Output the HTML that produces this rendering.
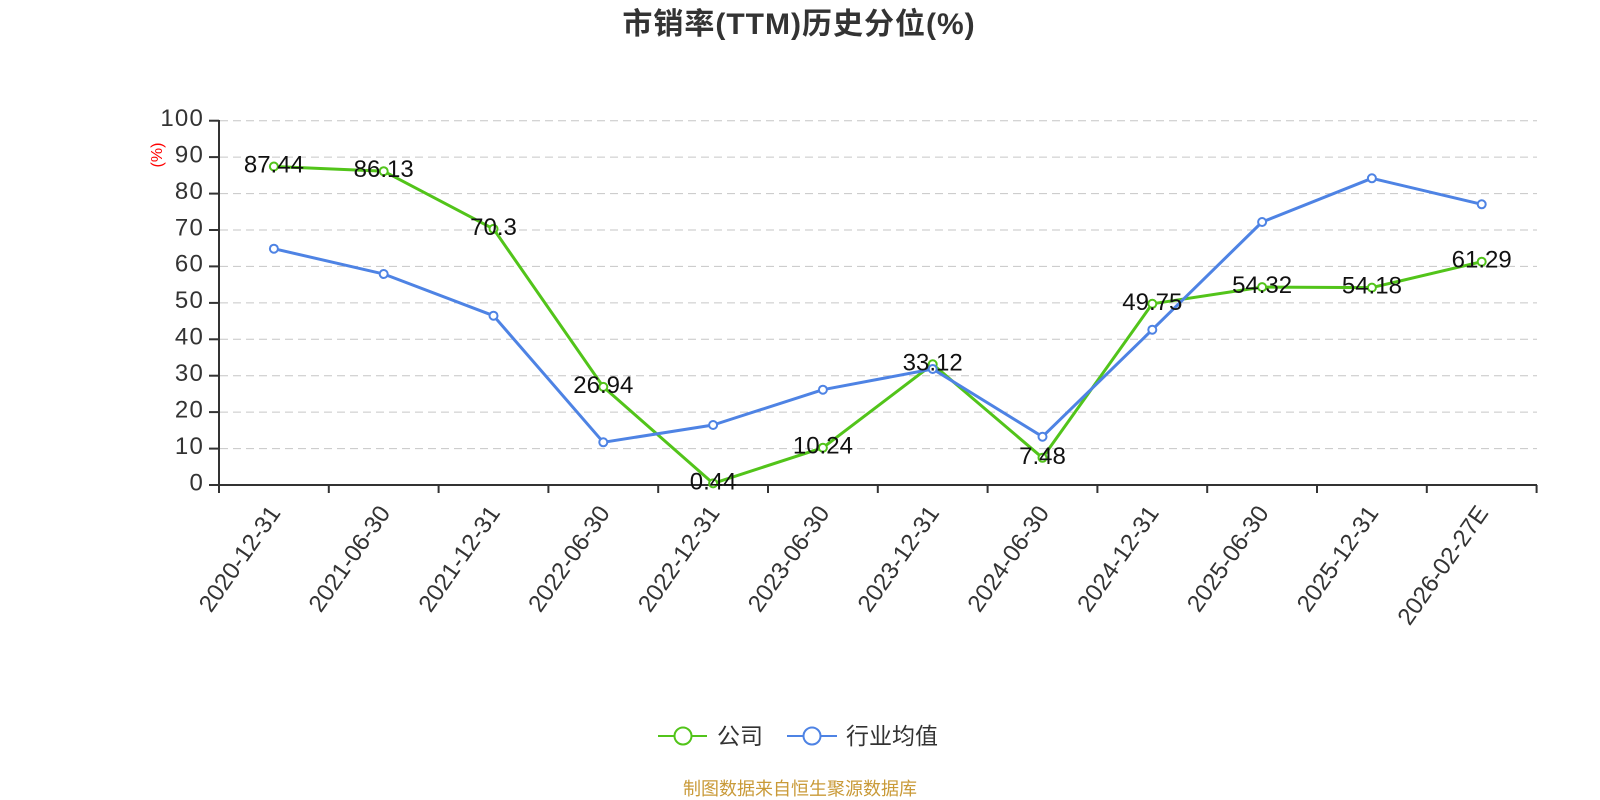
<!DOCTYPE html>
<html><head><meta charset="utf-8"><style>
html,body{margin:0;padding:0;background:#fff;}
svg{display:block;}
text{font-family:"Liberation Sans","Noto Sans CJK SC",sans-serif;}
</style></head><body>
<svg width="1600" height="800" viewBox="0 0 1600 800" xmlns="http://www.w3.org/2000/svg">
<rect width="1600" height="800" fill="#fff"/>
<text x="799" y="34" text-anchor="middle" font-size="30" font-weight="bold" fill="#333" letter-spacing="1">市销率(TTM)历史分位(%)</text>

<g stroke="#c6c6c6" stroke-width="1" stroke-dasharray="8,5">
<line x1="220" y1="120.7" x2="1537" y2="120.7"/>
<line x1="220" y1="157.1" x2="1537" y2="157.1"/>
<line x1="220" y1="193.6" x2="1537" y2="193.6"/>
<line x1="220" y1="230" x2="1537" y2="230"/>
<line x1="220" y1="266.4" x2="1537" y2="266.4"/>
<line x1="220" y1="302.9" x2="1537" y2="302.9"/>
<line x1="220" y1="339.3" x2="1537" y2="339.3"/>
<line x1="220" y1="375.7" x2="1537" y2="375.7"/>
<line x1="220" y1="412.1" x2="1537" y2="412.1"/>
<line x1="220" y1="448.6" x2="1537" y2="448.6"/>
</g>

<g stroke="#333" stroke-width="2">
<line x1="219" y1="120" x2="219" y2="485"/>
<line x1="218" y1="485" x2="1537" y2="485"/>
<line x1="209" y1="120.7" x2="219" y2="120.7"/>
<line x1="209" y1="157.1" x2="219" y2="157.1"/>
<line x1="209" y1="193.6" x2="219" y2="193.6"/>
<line x1="209" y1="230" x2="219" y2="230"/>
<line x1="209" y1="266.4" x2="219" y2="266.4"/>
<line x1="209" y1="302.9" x2="219" y2="302.9"/>
<line x1="209" y1="339.3" x2="219" y2="339.3"/>
<line x1="209" y1="375.7" x2="219" y2="375.7"/>
<line x1="209" y1="412.1" x2="219" y2="412.1"/>
<line x1="209" y1="448.6" x2="219" y2="448.6"/>
<line x1="209" y1="485" x2="219" y2="485"/>
<line x1="219" y1="485" x2="219" y2="493"/>
<line x1="328.8" y1="485" x2="328.8" y2="493"/>
<line x1="438.6" y1="485" x2="438.6" y2="493"/>
<line x1="548.4" y1="485" x2="548.4" y2="493"/>
<line x1="658.2" y1="485" x2="658.2" y2="493"/>
<line x1="768" y1="485" x2="768" y2="493"/>
<line x1="877.8" y1="485" x2="877.8" y2="493"/>
<line x1="987.6" y1="485" x2="987.6" y2="493"/>
<line x1="1097.4" y1="485" x2="1097.4" y2="493"/>
<line x1="1207.2" y1="485" x2="1207.2" y2="493"/>
<line x1="1317" y1="485" x2="1317" y2="493"/>
<line x1="1426.8" y1="485" x2="1426.8" y2="493"/>
<line x1="1536.6" y1="485" x2="1536.6" y2="493"/>
</g>

<g font-size="24" fill="#333" text-anchor="end" letter-spacing="1.2">
<text x="204" y="126">100</text>
<text x="204" y="162.5">90</text>
<text x="204" y="199">80</text>
<text x="204" y="235.5">70</text>
<text x="204" y="271.5">60</text>
<text x="204" y="308">50</text>
<text x="204" y="344.5">40</text>
<text x="204" y="381">30</text>
<text x="204" y="417.5">20</text>
<text x="204" y="454">10</text>
<text x="204" y="490.5">0</text>
</g>
<text transform="translate(162,155) rotate(-90)" text-anchor="middle" font-size="16" fill="#ff0000">(%)</text>

<g font-size="24" fill="#333" text-anchor="end">
<text transform="translate(281.4,513) rotate(-55)">2020-12-31</text>
<text transform="translate(391.2,513) rotate(-55)">2021-06-30</text>
<text transform="translate(501,513) rotate(-55)">2021-12-31</text>
<text transform="translate(610.8,513) rotate(-55)">2022-06-30</text>
<text transform="translate(720.6,513) rotate(-55)">2022-12-31</text>
<text transform="translate(830.4,513) rotate(-55)">2023-06-30</text>
<text transform="translate(940.2,513) rotate(-55)">2023-12-31</text>
<text transform="translate(1050,513) rotate(-55)">2024-06-30</text>
<text transform="translate(1159.8,513) rotate(-55)">2024-12-31</text>
<text transform="translate(1269.6,513) rotate(-55)">2025-06-30</text>
<text transform="translate(1379.4,513) rotate(-55)">2025-12-31</text>
<text transform="translate(1489.2,513) rotate(-55)">2026-02-27E</text>
</g>

<polyline fill="none" stroke="#52c41a" stroke-width="3" stroke-linejoin="round" points="273.9,166.5 383.7,171.2 493.5,228.9 603.3,386.9 713.1,483.4 822.9,447.7 932.7,364.3 1042.5,457.8 1152.3,303.8 1262.1,287.1 1371.9,287.6 1481.7,261.7"/>
<g fill="#fff" stroke="#52c41a" stroke-width="2">
<circle cx="273.9" cy="166.5" r="4"/><circle cx="383.7" cy="171.2" r="4"/><circle cx="493.5" cy="228.9" r="4"/><circle cx="603.3" cy="386.9" r="4"/><circle cx="713.1" cy="483.4" r="4"/><circle cx="822.9" cy="447.7" r="4"/><circle cx="932.7" cy="364.3" r="4"/><circle cx="1042.5" cy="457.8" r="4"/><circle cx="1152.3" cy="303.8" r="4"/><circle cx="1262.1" cy="287.1" r="4"/><circle cx="1371.9" cy="287.6" r="4"/><circle cx="1481.7" cy="261.7" r="4"/>
</g>

<polyline fill="none" stroke="#4e83e4" stroke-width="3" stroke-linejoin="round" points="273.9,248.7 383.7,274 493.5,315.7 603.3,442.3 713.1,425 822.9,389.7 932.7,369 1042.5,436.7 1152.3,329.7 1262.1,222 1371.9,178.3 1481.7,204.3"/>
<g fill="#fff" stroke="#4e83e4" stroke-width="2">
<circle cx="273.9" cy="248.7" r="4"/><circle cx="383.7" cy="274" r="4"/><circle cx="493.5" cy="315.7" r="4"/><circle cx="603.3" cy="442.3" r="4"/><circle cx="713.1" cy="425" r="4"/><circle cx="822.9" cy="389.7" r="4"/><circle cx="932.7" cy="369" r="4"/><circle cx="1042.5" cy="436.7" r="4"/><circle cx="1152.3" cy="329.7" r="4"/><circle cx="1262.1" cy="222" r="4"/><circle cx="1371.9" cy="178.3" r="4"/><circle cx="1481.7" cy="204.3" r="4"/>
</g>

<g font-size="24" fill="#111" text-anchor="middle">
<text x="273.9" y="172.5">87.44</text>
<text x="383.7" y="177.2">86.13</text>
<text x="493.5" y="234.9">70.3</text>
<text x="603.3" y="392.9">26.94</text>
<text x="713.1" y="489.4">0.44</text>
<text x="822.9" y="453.7">10.24</text>
<text x="932.7" y="370.3">33.12</text>
<text x="1042.5" y="463.8">7.48</text>
<text x="1152.3" y="309.8">49.75</text>
<text x="1262.1" y="293.1">54.32</text>
<text x="1371.9" y="293.6">54.18</text>
<text x="1481.7" y="267.7">61.29</text>
</g>

<line x1="658" y1="736" x2="707" y2="736" stroke="#52c41a" stroke-width="2"/>
<circle cx="683" cy="736" r="8.5" fill="#fff" stroke="#52c41a" stroke-width="2"/>
<text x="717" y="744" font-size="23" fill="#333">公司</text>
<line x1="787" y1="736" x2="837" y2="736" stroke="#4e83e4" stroke-width="2"/>
<circle cx="812" cy="736" r="8.5" fill="#fff" stroke="#4e83e4" stroke-width="2"/>
<text x="846" y="744" font-size="23" fill="#333">行业均值</text>

<text x="800" y="795" text-anchor="middle" font-size="18" fill="#c99a38">制图数据来自恒生聚源数据库</text>
</svg>
</body></html>
